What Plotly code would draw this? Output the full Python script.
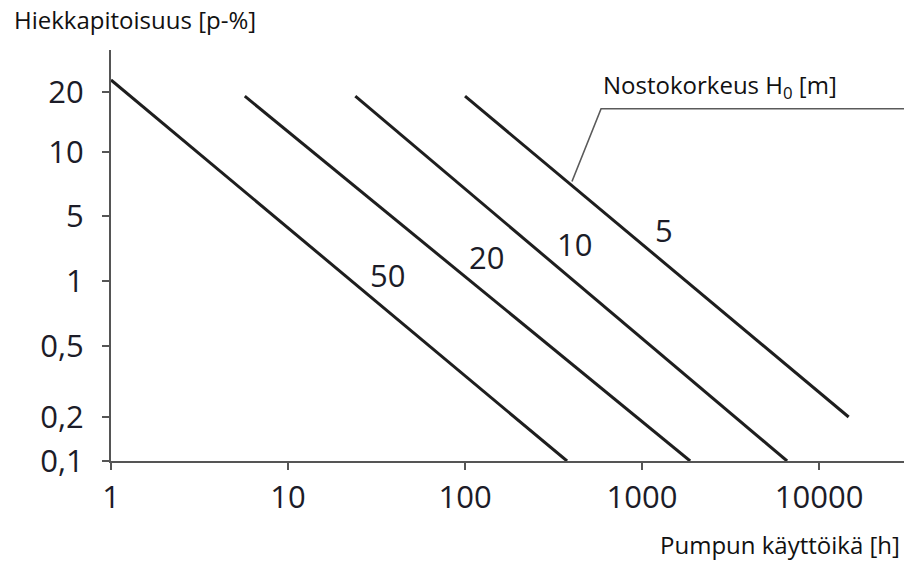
import numpy as np
import plotly.graph_objects as go

# ---------------- data ----------------
head_labels = ["50", "20", "10", "5"]            # Nostokorkeus H0 [m]
start_hours = [1.0, 5.7, 24.0, 100.0]            # pumpun käyttöikä [h] at line start
start_sand = [22.0, 19.3, 19.3, 19.3]            # hiekkapitoisuus [p-%] at line start
end_hours = [377.0, 1870.0, 6600.0, 14700.0]
end_sand = [0.1, 0.1, 0.1, 0.2]

label_hours = [36.7, 133.0, 418.0, 1330.0]
label_sand = [1.37, 2.48, 3.28, 4.14]

x_tick_vals = [1, 10, 100, 1000, 10000]
x_tick_text = ["1", "10", "100", "1000", "10000"]
y_tick_vals = [0.1, 0.2, 0.5, 1, 5, 10, 20]
y_tick_text = ["0,1", "0,2", "0,5", "1", "5", "10", "20"]

leader_hours = [402.0, 587.0]
leader_sand = [7.7, 17.2]

# ---------------- layout constants (the chart's non-uniform y scale) ----------------
Y_TICK_POS = [0, 44, 115, 180, 245, 309, 369]   # axis positions of the y ticks
Y_TOP = 411
X_MAX_LOG = 4.48


def ypos(v):
    """Map a sand percentage onto the drawing's piecewise y scale."""
    v = float(v)
    vals = y_tick_vals
    pos = Y_TICK_POS
    if v >= vals[-1]:
        slope = (pos[-1] - pos[-2]) / (vals[-1] - vals[-2])
        return pos[-1] + (v - vals[-1]) * slope
    return float(np.interp(v, vals, pos))


LINE_COLOR = "#1e1e1e"
TEXT_COLOR = "#1c1c28"
FONT = "Open Sans"

fig = go.Figure()

for lab, xs, ys, xe, ye in zip(head_labels, start_hours, start_sand, end_hours, end_sand):
    fig.add_trace(go.Scatter(
        x=[xs, xe], y=[ypos(ys), ypos(ye)], mode="lines",
        line=dict(color=LINE_COLOR, width=3), name=lab, showlegend=False,
        hoverinfo="skip", cliponaxis=False,
    ))

# leader line for the legend text
fig.add_trace(go.Scatter(
    x=leader_hours + [10 ** X_MAX_LOG],
    y=[ypos(v) for v in leader_sand] + [ypos(leader_sand[-1])],
    mode="lines", line=dict(color="#5a5a5a", width=1.6),
    showlegend=False, hoverinfo="skip", cliponaxis=False,
))

for lab, hx, sy in zip(head_labels, label_hours, label_sand):
    fig.add_annotation(x=np.log10(hx), y=ypos(sy), text=lab, showarrow=False,
                       font=dict(family=FONT, size=31, color=TEXT_COLOR))

fig.add_annotation(x=np.log10(leader_hours[-1]), y=ypos(leader_sand[-1]),
                   text="Nostokorkeus H<sub>0</sub> [m]", showarrow=False,
                   xanchor="left", yanchor="bottom", xshift=0, yshift=3,
                   font=dict(family=FONT, size=24, color="#111111"))

fig.add_annotation(x=-0.125, y=1.073, xref="paper", yref="paper",
                   xanchor="left", yanchor="middle",
                   text="Hiekkapitoisuus [p-%]", showarrow=False,
                   font=dict(family=FONT, size=24, color="#111111"))
fig.add_annotation(x=0.998, y=-0.204, xref="paper", yref="paper",
                   xanchor="right", yanchor="middle",
                   text="Pumpun käyttöikä [h]", showarrow=False,
                   font=dict(family=FONT, size=24, color="#111111"))

fig.update_layout(
    width=904, height=562,
    margin=dict(l=111, r=0, t=50, b=101),
    paper_bgcolor="white", plot_bgcolor="white",
    xaxis=dict(
        type="log", range=[0, X_MAX_LOG],
        tickvals=x_tick_vals, ticktext=x_tick_text,
        ticks="outside", ticklen=7, tickwidth=1.5, tickcolor="#555555",
        showline=True, linecolor="#555555", linewidth=2,
        showgrid=False, zeroline=False, ticklabelstandoff=1,
        tickfont=dict(family=FONT, size=31, color=TEXT_COLOR),
    ),
    yaxis=dict(
        range=[0, Y_TOP],
        tickvals=[ypos(v) for v in y_tick_vals], ticktext=y_tick_text,
        ticks="outside", ticklen=7, tickwidth=1.5, tickcolor="#555555",
        showline=True, linecolor="#555555", linewidth=2,
        showgrid=False, zeroline=False, ticklabelstandoff=12,
        tickfont=dict(family=FONT, size=31, color=TEXT_COLOR),
    ),
)

fig.write_html(
    "out.html",
    config={"displayModeBar": False, "staticPlot": True},
    post_script="document.body.style.margin='0';document.body.style.overflow='hidden';",
)
